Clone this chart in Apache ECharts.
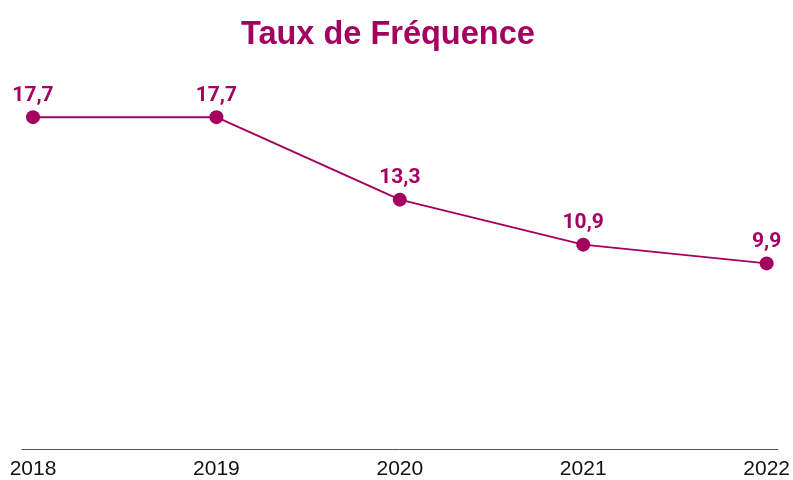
<!DOCTYPE html>
<html><head><meta charset="utf-8">
<script src="https://cdn.jsdelivr.net/npm/echarts@6/dist/echarts.min.js"></script>
<style>html,body{margin:0;padding:0;background:#fff}#c{width:793px;height:480px}</style>
</head><body><div id="c"></div>
<script>
const titleText = 'Taux de Fréquence';
const years = [2018, 2019, 2020, 2021, 2022];
const values = [17.7, 17.7, 13.3, 10.9, 9.9];
const color = '#A4005F';

const chart = echarts.init(document.getElementById('c'), null, {renderer: 'canvas'});
chart.setOption({
  animation: false,
  title: {
    text: titleText, left: 236, top: 14,
    textStyle: {fontFamily: 'Liberation Sans', fontWeight: 'bold', fontSize: 32.5, color: color}
  },
  grid: {left: 22, right: 12, top: 74, bottom: 29},
  xAxis: {
    type: 'value', min: 2017.94, max: 2022.06,
    splitLine: {show: false},
    axisTick: {show: false},
    axisLine: {show: true, onZero: false, lineStyle: {color: '#555', width: 1}},
    axisLabel: {
      customValues: years, formatter: v => String(v),
      fontFamily: 'Liberation Sans', fontSize: 21, color: '#111', margin: 10
    }
  },
  yAxis: {type: 'value', min: 0, max: 20, show: false},
  series: [{
    type: 'line',
    data: years.map((y, i) => [y, values[i]]),
    symbol: 'circle', symbolSize: 14,
    itemStyle: {color: color},
    lineStyle: {color: color, width: 2},
    label: {
      show: true, position: 'top', distance: 4,
      formatter: p => String(p.value[1]).replace('.', ','),
      fontFamily: 'Roboto', fontWeight: 'bold', fontSize: 21, color: color
    }
  }]
});
</script></body></html>
